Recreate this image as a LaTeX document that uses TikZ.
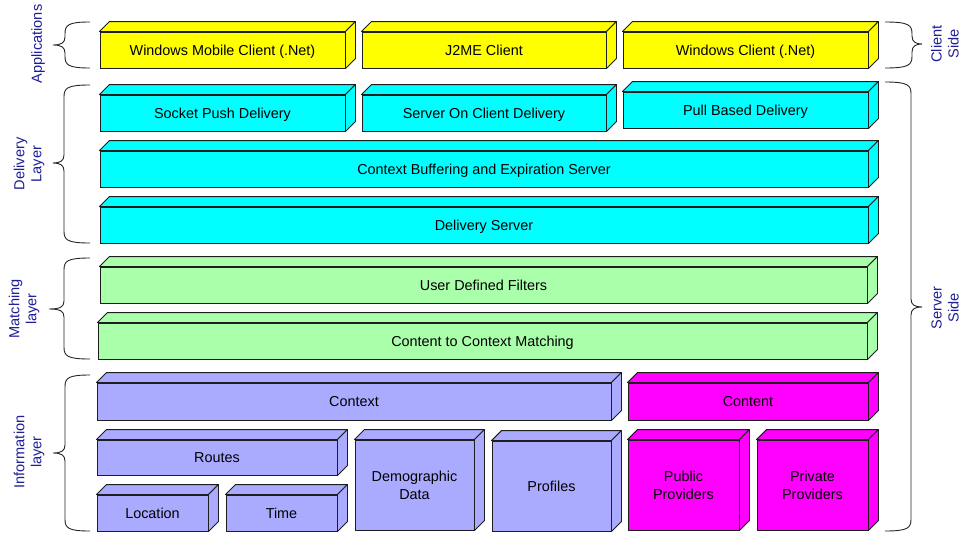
\documentclass[tikz,border=0pt]{standalone}
\usepackage{fontspec}
\setmainfont{Liberation Sans}
\definecolor{layerblue}{RGB}{30,30,150}
\definecolor{appyellow}{RGB}{255,255,0}
\definecolor{delcyan}{RGB}{0,255,255}
\definecolor{matchgreen}{RGB}{170,255,170}
\definecolor{infoblue}{RGB}{170,170,255}
\definecolor{contmagenta}{RGB}{255,0,255}
\definecolor{edge}{RGB}{30,30,30}

\tikzset{
  layerblock/.style={draw=edge, line width=0.9pt, inner sep=0pt, align=center,
    font=\fontsize{14.4}{18}\selectfont},
  onerow/.style={text height=10.3pt, text depth=0pt},
  blockface/.style={draw=edge, line width=0.9pt, line join=round},
  bracepath/.style={draw=black!85, line width=0.9pt},
  sidelabel/.style={text=layerblue, rotate=90, align=center,
    font=\fontsize{14.6}{17}\selectfont}
}

% 3D block: [extra node options] name, x1, y1, x2, y2 (front face), colour, text
\newcommand\layerbox[8][onerow]{%
  \node[layerblock, #1, fill=#7, minimum width={(#5-#3)*1pt}, minimum height={(#6-#4)*1pt}]
    (#2) at ({(#3+#5)/2},{(#4+#6)/2}) {#8};
  \draw[blockface, fill=#7] (#2.north west) -- ++(10pt,10pt)
    -- ([shift={(10pt,10pt)}]#2.north east) -- (#2.north east) -- cycle;
  \draw[blockface, fill=#7] (#2.north east) -- ([shift={(10pt,10pt)}]#2.north east)
    -- ([shift={(10pt,10pt)}]#2.south east) -- (#2.south east) -- cycle;
}

% curly brace: end x, stem x, tip x, top y, tip y, bottom y, direction (1 = opens right, -1 = opens left)
\newcommand\layerbrace[7]{%
  \draw[bracepath] (#1,#4) .. controls ({#2+(#1-#2)*0.12},#4) and (#2,{#4+3}) .. (#2,{#4+12})
    -- (#2,{#5-8}) .. controls (#2,{#5-2}) and ({#2-#7*4},#5) .. (#3,#5)
    .. controls ({#2-#7*4},#5) and (#2,{#5+2}) .. (#2,{#5+8})
    -- (#2,{#6-12}) .. controls (#2,{#6-3}) and ({#2+(#1-#2)*0.12},#6) .. (#1,#6);
}

\begin{document}
\begin{tikzpicture}[x=1pt,y=-1pt]
\useasboundingbox (0,0) rectangle (963,533);

% applications
\layerbox{wmc}{100}{32}{345}{68}{appyellow}{Windows Mobile Client (.Net)}
\layerbox{jme}{362}{32}{606}{68}{appyellow}{J2ME Client}
\layerbox{wc}{623}{32}{868}{68}{appyellow}{Windows Client (.Net)}

% delivery layer
\layerbox{sock}{100}{95}{345}{131}{delcyan}{Socket Push Delivery}
\layerbox{soc}{362}{95}{606}{131}{delcyan}{Server On Client Delivery}
\layerbox{pull}{623}{92}{868}{128}{delcyan}{Pull Based Delivery}
\layerbox{cbuf}{100}{151}{868}{187}{delcyan}{Context Buffering and Expiration Server}
\layerbox{dsrv}{100}{207}{868}{243}{delcyan}{Delivery Server}

% matching layer
\layerbox{udf}{100}{267}{867}{303}{matchgreen}{User Defined Filters}
\layerbox{ccm}{98}{323}{867}{359}{matchgreen}{Content to Context Matching}

% information layer
\layerbox{ctx}{97}{383}{611}{420}{infoblue}{Context}
\layerbox{rts}{97}{440}{337}{475}{infoblue}{Routes}
\layerbox{loc}{97}{495}{208}{531}{infoblue}{Location}
\layerbox{tim}{226}{495}{337}{531}{infoblue}{Time}
\layerbox[yshift=1pt]{demo}{355}{441}{474}{531}{infoblue}{Demographic\\Data}
\layerbox{prof}{492}{441}{611}{531}{infoblue}{Profiles}
\layerbox{cont}{628}{383}{868}{420}{contmagenta}{Content}
\layerbox[yshift=1pt]{pub}{628}{441}{739}{531}{contmagenta}{Public\\Providers}
\layerbox[yshift=1pt]{priv}{757}{441}{868}{531}{contmagenta}{Private\\Providers}

% left braces and layer labels
\layerbrace{90}{65}{53}{22}{45}{68}{1}
\layerbrace{90}{64}{53}{85}{163}{243}{1}
\layerbrace{90}{64}{49}{258}{309}{359}{1}
\layerbrace{90}{65}{53}{375}{453}{531}{1}
\node[sidelabel] (lapp) at (38,44) {Applications};
\node[sidelabel] (ldel) at (29,164) {Delivery\\Layer};
\node[sidelabel] (lmat) at (24,309) {Matching\\layer};
\node[sidelabel] (linf) at (29,452) {Information\\layer};

% right braces and side labels
\layerbrace{885}{912}{922}{22}{44}{68}{-1}
\layerbrace{885}{911}{922}{82}{307}{531}{-1}
\node[sidelabel] (lcli) at (945,44) {Client\\Side};
\node[sidelabel] (lsrv) at (945,308) {Server\\Side};
\end{tikzpicture}
\end{document}
